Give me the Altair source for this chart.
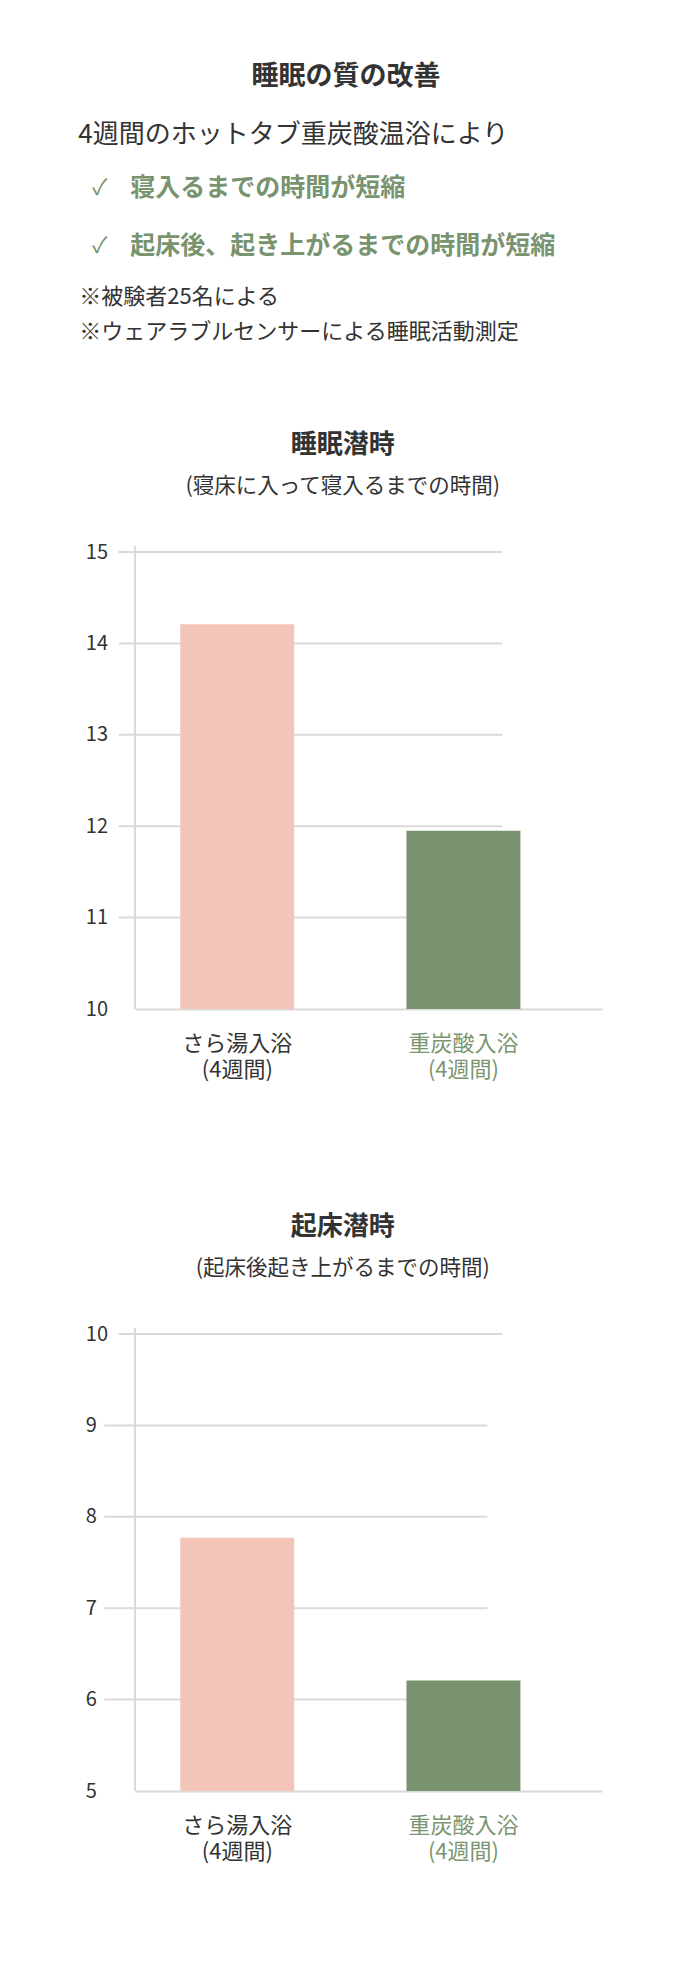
import altair as alt
import pandas as pd

FONT = "Noto Sans CJK JP"
TEXT = "#333333"
GREEN = "#78936d"
GREEN_TEXT = "#7a9670"
PINK = "#f3c5b8"
GRID = "#dadada"

# ---------------- header texts ----------------
header_title = "睡眠の質の改善"
header_lead = "4週間のホットタブ重炭酸温浴により"
header_points = ["寝入るまでの時間が短縮", "起床後、起き上がるまでの時間が短縮"]
header_notes = ["※被験者25名による", "※ウェアラブルセンサーによる睡眠活動測定"]
check_mark = "✓"

# ---------------- chart data ----------------
groups = ["さら湯入浴", "重炭酸入浴"]
period = "(4週間)"

chart1_title = "睡眠潜時"
chart1_subtitle = "(寝床に入って寝入るまでの時間)"
chart1_values = [14.21, 11.95]
chart1_ticks = [10, 11, 12, 13, 14, 15]

chart2_title = "起床潜時"
chart2_subtitle = "(起床後起き上がるまでの時間)"
chart2_values = [7.77, 6.21]
chart2_ticks = [5, 6, 7, 8, 9, 10]

W = 467
H = 457
HEADER_H = 219
SPACING = 325

dummy = pd.DataFrame({"k": [0]})


def txt(s, x, y, size, color=TEXT, weight="normal", align="left"):
    return alt.Chart(dummy).mark_text(
        align=align, baseline="middle", font=FONT, fontSize=size,
        fontWeight=weight, color=color
    ).encode(x=alt.value(x), y=alt.value(y), text=alt.value(s))


header_layers = [
    txt(header_title, 211, 69, 27, weight="bold", align="center"),
    txt(header_lead, -56.7, 127, 26),
]
for s, yy in zip(header_points, [180, 238]):
    header_layers.append(txt(check_mark, -42.7, yy, 22, color=GREEN))
    header_layers.append(txt(s, -4.7, yy, 25, color=GREEN, weight="bold"))
for s, yy in zip(header_notes, [289, 324]):
    header_layers.append(txt(s, -55.7, yy, 22))

header = alt.layer(*header_layers).properties(width=W, height=HEADER_H)


def bar_panel(values, ticks, title, subtitle):
    df = pd.DataFrame({
        "group": [g + "|" + period for g in groups],
        "name": groups,
        "value": values,
    })
    yscale = alt.Scale(domain=[ticks[0], ticks[-1]], nice=False, zero=False)
    yaxis = alt.Axis(values=ticks, domain=False, ticks=False, tickSize=0, grid=False,
                     labelAlign="left", labelBaseline="middle", labelPadding=49.7,
                     labelFontSize=20, labelColor=TEXT, labelFont=FONT, format="d",
                     title=None)

    def yenc(field):
        return alt.Y(field, type="quantitative", scale=yscale, axis=yaxis, title=None)

    xenc = alt.X(
        "group:N", sort=None, title=None,
        scale=alt.Scale(paddingInner=0.496, paddingOuter=0.2805, align=0.357),
        axis=alt.Axis(
            labelExpr="split(datum.label, '|')", labelAngle=0,
            domainColor=GRID, domainWidth=2, ticks=False, tickSize=0, grid=False,
            labelFontSize=22, labelLineHeight=26, labelPadding=24,
            labelFont=FONT, labelBaseline="top",
            labelColor=alt.ExprRef(
                "indexof(datum.value, '" + groups[1] + "') >= 0 ? '" + GREEN_TEXT + "' : '" + TEXT + "'"
            ),
        ),
    )

    long_ticks = [t for t in ticks[1:] if t >= 10]
    short_ticks = [t for t in ticks[1:] if t < 10]

    layers = []
    if long_ticks:
        layers.append(
            alt.Chart(pd.DataFrame({"tick": long_ticks})).mark_rule(color=GRID, strokeWidth=2)
            .encode(y=yenc("tick"), x=alt.value(-16.4), x2=alt.value(367.3))
        )
    if short_ticks:
        layers.append(
            alt.Chart(pd.DataFrame({"tick": short_ticks})).mark_rule(color=GRID, strokeWidth=2)
            .encode(y=yenc("tick"), x=alt.value(-30.7), x2=alt.value(352.3))
        )
    # y-axis line
    layers.append(
        alt.Chart(dummy).mark_rule(color=GRID, strokeWidth=2)
        .encode(x=alt.value(0), y=alt.value(-6), y2=alt.value(H))
    )
    bars = alt.Chart(df).mark_bar().encode(
        x=xenc,
        y=yenc("value"),
        y2=alt.datum(ticks[0]),
        color=alt.Color("name:N", scale=alt.Scale(domain=groups, range=[PINK, GREEN]), legend=None),
    )
    layers.append(bars)

    return alt.layer(*layers).properties(
        width=W, height=H,
        title=alt.TitleParams(
            text=title, subtitle=subtitle, anchor="middle", frame="group", dx=-25.7,
            font=FONT, fontSize=26, fontWeight="bold", color=TEXT,
            subtitleFont=FONT, subtitleFontSize=21.5, subtitleColor=TEXT,
            subtitlePadding=18, offset=45,
        ),
    )


chart1 = bar_panel(chart1_values, chart1_ticks, chart1_title, chart1_subtitle)
chart2 = bar_panel(chart2_values, chart2_ticks, chart2_title, chart2_subtitle)

chart = alt.vconcat(header, chart1, chart2, spacing=SPACING, bounds="flush").properties(
    padding={"left": 70, "top": 0, "right": 20, "bottom": 30},
    background="white",
).configure(font=FONT).configure_view(stroke=None)

chart.save("out.html", embed_options={"renderer": "svg", "actions": False})
